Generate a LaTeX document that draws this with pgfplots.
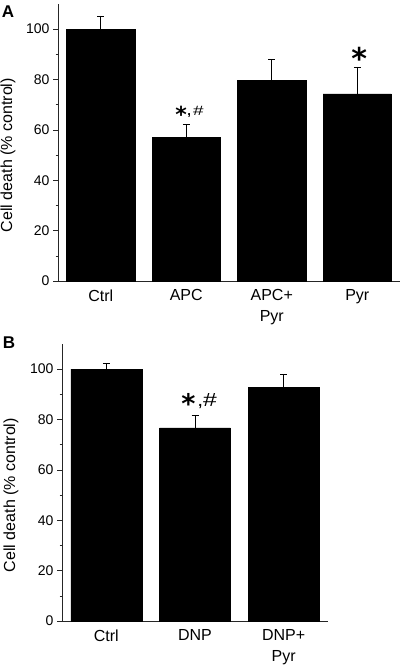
\documentclass[border=0pt]{standalone}
\usepackage{pgfplots}
\pgfplotsset{compat=1.18}
\usepackage{fontspec}
\setmainfont{Liberation Sans}
\newfontfamily\astfont{DejaVu Sans}
\begin{document}
\begin{tikzpicture}
\path[use as bounding box] (0pt,0pt) rectangle (400pt,669pt);
\pgfplotsset{
  mystyle/.style={
    scale only axis, height=277pt,
    ymin=0, ymax=110,
    axis x line*=bottom, axis y line*=left,
    ytick={0,20,...,100}, minor ytick={10,30,...,90},
    tick align=outside, major tick length=5pt, minor tick length=2.5pt,
    xtick style={draw=none},
    ytick style={black!85, line width=0.6pt},
    axis line style={black!85, line width=0.6pt},
    ybar, bar width=0.8,
    error bars/y dir=plus, error bars/y explicit,
    error bars/error bar style={black, line width=0.6pt},
    error bars/error mark options={rotate=90, mark size=3.5pt, black, line width=0.6pt},
    yticklabel style={font=\fontsize{14}{14}\selectfont},
    xticklabel style={font=\fontsize{16}{20.5}\selectfont, align=center},
    ylabel={Cell death (\% control)},
    ylabel style={font=\fontsize{16}{16}\selectfont, anchor=center},
    xtick=data,
    /pgf/number format/assume math mode=true,
    enlarge x limits=false,
    clip=false,
  }
}
\begin{axis}[mystyle, at={(58pt,388pt)}, anchor=south west, width=342pt,
  xmin=-0.5, xmax=3.5,
  xticklabels={Ctrl,APC,{APC+\\Pyr},Pyr},
  ylabel style={at={(axis description cs:-0.146,0.4545)}}]
\addplot[fill=black, draw=black, line width=0.2pt] table[x=x,y=y,y error=e] {
x y e
0 100 5.3
1 57.1 5.1
2 79.6 8.4
3 74.3 10.7
};
\node[anchor=north, inner sep=0pt, font=\astfont\bfseries\fontsize{22}{22}\selectfont] at (axis cs:0.939,69.4) {*};
\node[anchor=base, inner sep=0pt, font=\bfseries\fontsize{13}{13}\selectfont] at (axis cs:1.035,65.9) {,};
\node[anchor=base, inner sep=0pt, font=\fontsize{13.5}{13.5}\selectfont] at (axis cs:1.141,65.9) {\scalebox{1.4}[1]{\#}};
\node[anchor=north, inner sep=0pt, font=\astfont\bfseries\fontsize{30}{30}\selectfont] at (axis cs:3.022,93.0) {*};
\end{axis}
\begin{axis}[mystyle, at={(62pt,48pt)}, anchor=south west, width=266pt,
  xmin=-0.5, xmax=2.5,
  xticklabels={Ctrl,DNP,{DNP+\\Pyr}},
  ylabel style={at={(axis description cs:-0.192,0.4545)}}]
\addplot[fill=black, draw=black, line width=0.2pt] table[x=x,y=y,y error=e] {
x y e
0 100 2.4
1 76.7 5.0
2 92.7 5.2
};
\node[anchor=north, inner sep=0pt, font=\astfont\bfseries\fontsize{27}{27}\selectfont] at (axis cs:0.926,90.5) {*};
\node[anchor=base, inner sep=0pt, font=\bfseries\fontsize{14}{14}\selectfont] at (axis cs:1.061,85.3) {,};
\node[anchor=base, inner sep=0pt, font=\fontsize{19}{19}\selectfont] at (axis cs:1.168,85.3) {\scalebox{1.3}[1]{\#}};
\end{axis}
\node[anchor=north west, inner sep=0pt, font=\fontsize{17}{17}\selectfont\bfseries] at (1.7pt,663pt) {A};
\node[anchor=north west, inner sep=0pt, font=\fontsize{17}{17}\selectfont\bfseries] at (2.7pt,332.3pt) {B};
\end{tikzpicture}
\end{document}
